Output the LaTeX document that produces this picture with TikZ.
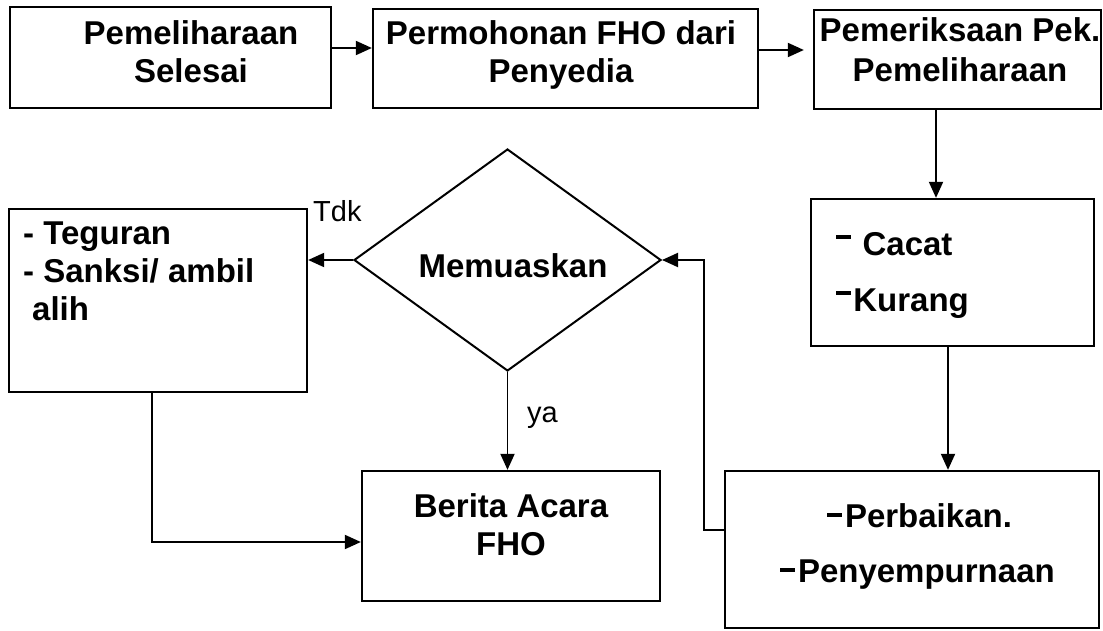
\documentclass[tikz,border=0pt]{standalone}
\usepackage{fontspec}
\setmainfont{Liberation Sans}
\usetikzlibrary{arrows.meta,shapes.geometric}
% a short heavy dash raised to the given height
\newcommand{\bardash}[1]{\rule[#1]{0.44em}{0.11em}}

\begin{document}
\begin{tikzpicture}[x=1pt,y=-1pt,
  box/.style={draw,line width=2.3pt,rectangle,inner sep=0pt},
  lbl/.style={font=\fontsize{33}{38}\selectfont\bfseries,inner sep=0pt,anchor=base},
  lblw/.style={lbl,anchor=base west},
  tag/.style={font=\fontsize{29}{32}\selectfont,inner sep=0pt,anchor=base west},
  conn/.style={line width=1.9pt,-{Triangle[length=16pt,width=14pt]}},
  link/.style={line width=1.9pt}]
\useasboundingbox (0,0) rectangle (1103,631);

% boxes
\node[box,minimum width=321pt,minimum height=101pt] (selesai) at (170.5,57.5) {};
\node[box,minimum width=385pt,minimum height=99pt] (mohon) at (565.5,58.5) {};
\node[box,minimum width=287pt,minimum height=99pt] (periksa) at (957.5,59.5) {};
\node[box,minimum width=283pt,minimum height=147pt] (cacat) at (952.5,272.5) {};
\node[box,minimum width=374pt,minimum height=157pt] (perbaikan) at (912,549.5) {};
\node[box,minimum width=298pt,minimum height=130pt] (berita) at (511,536) {};
\node[box,minimum width=298pt,minimum height=183pt] (teguran) at (158,300.5) {};
\node[draw,line width=2pt,shape=diamond,inner sep=0pt,
      minimum width=307pt,minimum height=222pt] (puas) at (507.5,260) {};

% texts
\node[lbl] (s1) at (191,45) {Pemeliharaan};
\node[lbl] (s2) at (191,83) {Selesai};
\node[lbl] (m1) at (561,45) {Permohonan FHO dari};
\node[lbl] (m2) at (561,83) {Penyedia};
\node[lbl] (p1) at (960,42) {Pemeriksaan Pek.};
\node[lbl] (p2) at (960,82) {Pemeliharaan};
\node[lblw] (c1) at (836,255) {\bardash{0.5em}\hspace{0.36em}Cacat};
\node[lblw] (c2) at (836,311) {\bardash{0.5em}\hspace{0.08em}Kurang};
\node[lblw] (g1) at (23,244) {- Teguran};
\node[lblw] (g2) at (23,282) {- Sanksi/ ambil};
\node[lblw] (g3) at (32,320) {alih};
\node[lbl] (q1) at (513,277) {Memuaskan};
\node[lbl] (b1) at (511,517) {Berita Acara};
\node[lbl] (b2) at (511,555) {FHO};
\node[lblw] (r1) at (827,527) {\bardash{0.3em}\hspace{0.1em}Perbaikan.};
\node[lblw] (r2) at (780,582) {\bardash{0.3em}\hspace{0.1em}Penyempurnaan};
\node[tag] (tdk) at (313,222) {Tdk};
\node[tag] (ya) at (527,422) {ya};

% connectors
\draw[conn] (selesai.east |- 0,48) -- (mohon.west |- 0,48);
\draw[conn,shorten >=9pt] (mohon.east |- 0,50) -- (periksa.west |- 0,50);
\draw[conn] (periksa.south -| 936,0) -- (cacat.north -| 936,0);
\draw[conn] (cacat.south -| 948,0) -- (perbaikan.north -| 948,0);
\coordinate (fb) at (704,530);
\draw[conn] (perbaikan.west |- fb) -- (fb) -- (fb |- puas.east) -- (puas.east);
\draw[conn] (puas.west) -- (teguran.east |- puas.west);
\draw[conn] (puas.south) -- (berita.north -| puas.south);
\coordinate (tb) at (152,542);
\draw[conn] (teguran.south -| tb) -- (tb) -- (berita.west |- tb);
\end{tikzpicture}
\end{document}
